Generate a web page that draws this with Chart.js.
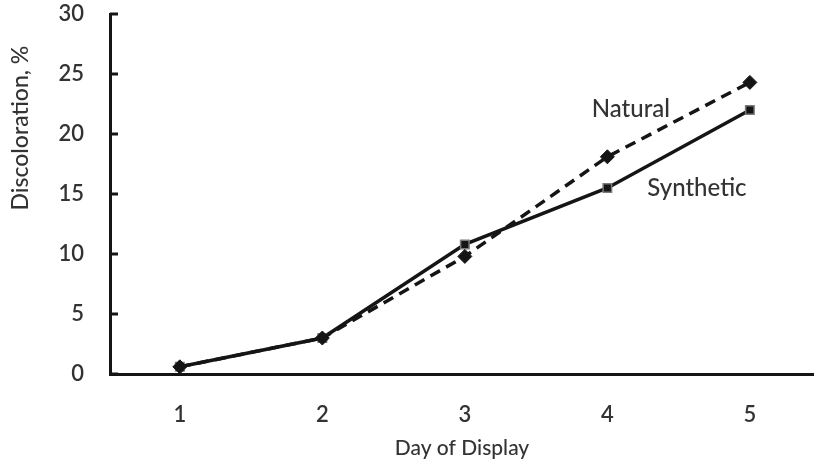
<!DOCTYPE html>
<html lang="en">
<head>
  <meta charset="UTF-8">
  <title>Discoloration by Day of Display</title>
  <script src="https://cdn.jsdelivr.net/npm/chart.js"></script>
  <style>
    html, body {
      margin: 0;
      padding: 0;
      background: #ffffff;
      overflow: hidden;
    }

    #chart-container {
      width: 814px;
      height: 465px;
    }
  </style>
</head>
<body>

<div id="chart-container">
  <canvas id="discolorChart"></canvas>
</div>

<script>
  // Discoloration (%) over the days of display
  const days = [1, 2, 3, 4, 5];
  const naturalValues = [0.6, 3.0, 9.8, 18.1, 24.3];
  const syntheticValues = [0.6, 3.0, 10.8, 15.5, 22.0];
  const yTicks = [0, 5, 10, 15, 20, 25, 30];

  const textColor = '#333333';
  const lineColor = '#151515';
  const fontFamily = 'Lato, "Open Sans", sans-serif';

  // series names written next to the lines, in data units
  const seriesLabels = [
    { text: 'Natural', x: 3.89, y: 22.05 },
    { text: 'Synthetic', x: 4.28, y: 15.45 }
  ];

  const toPoints = values => days.map((d, i) => ({ x: d, y: values[i] }));

  // short tick marks pointing into the plot from the y axis
  const innerTicks = {
    id: 'innerTicks',
    afterDatasetsDraw(chart) {
      const { ctx, scales: { x, y } } = chart;
      ctx.save();
      ctx.strokeStyle = lineColor;
      ctx.lineWidth = 3;
      yTicks.forEach(v => {
        const py = y.getPixelForValue(v);
        ctx.beginPath();
        ctx.moveTo(x.left, py);
        ctx.lineTo(x.left + 8, py);
        ctx.stroke();
      });
      ctx.restore();
    }
  };

  // series names and the y axis title
  const textLabels = {
    id: 'textLabels',
    afterDraw(chart) {
      const { ctx, chartArea, scales: { x, y } } = chart;
      ctx.save();
      ctx.fillStyle = textColor;
      ctx.font = '500 24px ' + fontFamily;
      ctx.textBaseline = 'middle';
      ctx.textAlign = 'left';
      seriesLabels.forEach(l => {
        ctx.fillText(l.text, x.getPixelForValue(l.x), y.getPixelForValue(l.y));
      });

      ctx.font = '500 23px ' + fontFamily;
      ctx.translate(21, chartArea.top + 114);
      ctx.rotate(-Math.PI / 2);
      ctx.textAlign = 'center';
      ctx.fillText('Discoloration, %', 0, 0);
      ctx.restore();
    }
  };

  const ctx = document.getElementById('discolorChart').getContext('2d');
  new Chart(ctx, {
    type: 'line',
    data: {
      datasets: [
        {
          label: 'Natural',
          data: toPoints(naturalValues),
          borderColor: lineColor,
          borderWidth: 3.5,
          borderDash: [11, 7],
          pointStyle: 'rectRot',
          pointRadius: 7,
          pointBackgroundColor: lineColor,
          pointBorderColor: lineColor,
          pointBorderWidth: 1,
          tension: 0
        },
        {
          label: 'Synthetic',
          data: toPoints(syntheticValues),
          borderColor: lineColor,
          borderWidth: 3.5,
          pointStyle: 'rect',
          pointRadius: 6,
          pointBackgroundColor: lineColor,
          pointBorderColor: '#7a7a7a',
          pointBorderWidth: 1.5,
          tension: 0
        }
      ]
    },
    options: {
      responsive: true,
      maintainAspectRatio: false,
      animation: false,
      layout: {
        autoPadding: false,
        padding: { top: 14, right: 0, bottom: 0, left: 0 }
      },
      plugins: {
        legend: { display: false },
        tooltip: { enabled: false }
      },
      scales: {
        x: {
          type: 'linear',
          min: 0.51,
          max: 5.45,
          afterBuildTicks: scale => {
            scale.ticks = days.map(d => ({ value: d }));
          },
          afterFit: scale => {
            scale.height = 91;
            scale.paddingLeft = 0;
            scale.paddingRight = 0;
          },
          border: { display: true, color: lineColor, width: 3 },
          grid: { display: false, drawTicks: false },
          ticks: {
            color: textColor,
            padding: 28,
            font: { family: fontFamily, size: 22, weight: 600 }
          },
          title: {
            display: true,
            text: 'Day of Display',
            color: textColor,
            padding: { top: 0, bottom: 4 },
            font: { family: fontFamily, size: 21, weight: 500 }
          }
        },
        y: {
          min: 0,
          max: 30,
          afterBuildTicks: scale => {
            scale.ticks = yTicks.map(v => ({ value: v }));
          },
          afterFit: scale => {
            scale.width = 110;
            scale.paddingTop = 0;
            scale.paddingBottom = 0;
          },
          border: { display: true, color: lineColor, width: 3 },
          grid: { display: false, drawTicks: false },
          ticks: {
            color: textColor,
            padding: 26,
            font: { family: fontFamily, size: 22, weight: 600 }
          }
        }
      }
    },
    plugins: [innerTicks, textLabels]
  });
</script>
</body>
</html>
